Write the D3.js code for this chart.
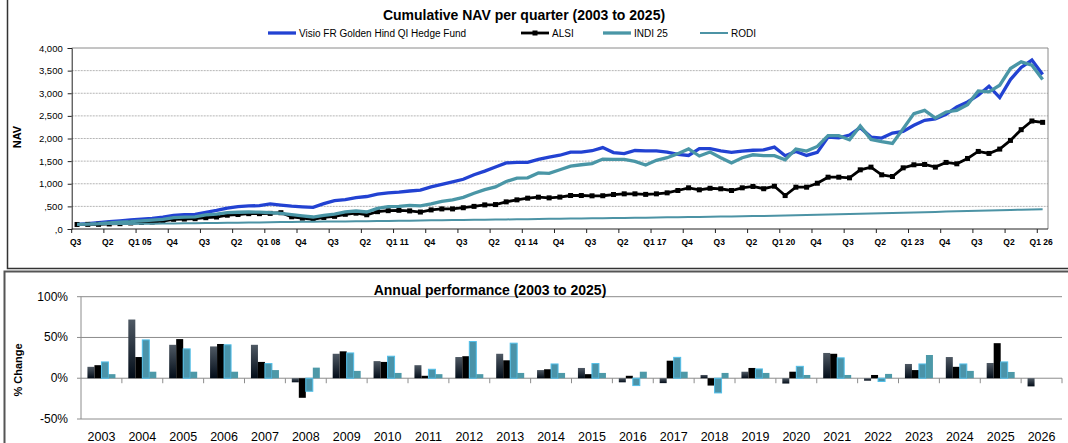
<!DOCTYPE html>
<html>
<head>
<meta charset="utf-8">
<script src="https://cdn.jsdelivr.net/npm/d3@7"></script>
<style>
    body { margin: 0; background: #fff; }
    svg text { font-family: "Liberation Sans", Arial, sans-serif; fill: #000; }
</style>
</head>
<body>
<div id="chart"></div>
<script>
// ---- quarterly NAV (Q3 2003 .. Q1 2026) ----
const fundNav = [100,118,140,160,180,200,220,235,262,300,
    318,325,370,410,460,495,510,515,555,530,
    505,490,478,560,625,650,695,718,770,800,
    815,840,860,930,985,1040,1100,1200,1280,1370,
    1460,1473,1473,1540,1590,1630,1700,1700,1730,1800,
    1690,1665,1735,1725,1725,1700,1650,1625,1775,1775,
    1725,1695,1720,1740,1750,1810,1620,1714,1626,1692,
    2032,2017,2077,2239,2032,2010,2121,2158,2291,2402,
    2431,2535,2697,2808,2956,3155,2904,3303,3569,3732,
    3414];
const alsiNav = [100,102,103,112,118,133,145,155,177,214,
    220,228,250,265,305,320,339,339,345,360,
    270,240,215,255,280,325,350,315,383,405,
    413,400,375,422,444,444,470,500,533,540,
    600,644,681,703,688,705,740,740,733,735,
    762,777,777,765,777,799,851,910,866,900,
    888,851,910,940,890,946,739,924,924,1012,
    1145,1145,1131,1308,1367,1197,1160,1352,1419,1426,
    1367,1471,1441,1559,1714,1670,1766,1958,2195,2387,
    2357];
const indiNav = [100,108,118,135,150,162,180,195,214,250,
    262,270,310,330,360,370,376,372,360,345,
    317,290,265,300,330,380,398,376,455,495,
    500,520,512,555,610,645,700,790,870,930,
    1050,1125,1132,1240,1230,1310,1390,1420,1445,1545,
    1540,1540,1495,1415,1517,1576,1665,1769,1613,1702,
    1576,1458,1576,1640,1620,1620,1530,1766,1722,1825,
    2062,2062,1973,2276,1980,1929,1892,2217,2550,2623,
    2453,2586,2623,2749,3052,3030,3178,3547,3695,3621,
    3303];
const rodiNav = [100,103,105,108,110,113,116,118,121,124,
    126,129,132,135,138,140,143,146,149,152,
    155,158,160,163,165,168,170,173,176,179,
    182,185,188,191,194,197,200,203,206,209,
    212,215,218,221,224,227,230,233,236,239,
    242,245,248,251,254,257,260,263,266,270,
    274,278,282,286,290,295,300,305,310,315,
    320,325,330,336,342,348,354,360,366,372,
    378,384,390,396,402,408,414,420,426,431,
    435];
// one label every third quarter, starting at Q3 2003
const quarterLabels = ["Q3","Q2","Q1 05","Q4","Q3","Q2","Q1 08","Q4","Q3","Q2","Q1 11",
    "Q4","Q3","Q2","Q1 14","Q4","Q3","Q2","Q1 17","Q4","Q3","Q2","Q1 20",
    "Q4","Q3","Q2","Q1 23","Q4","Q3","Q2","Q1 26"];
const navTicks = [0,500,1000,1500,2000,2500,3000,3500,4000];

// ---- annual performance (%) ----
const years = ["2003","2004","2005","2006","2007","2008","2009","2010","2011","2012","2013","2014",
    "2015","2016","2017","2018","2019","2020","2021","2022","2023","2024","2025","2026"];
const fundPerf = [14,72,41,39,41,-5,30,21,16,26,30,10,12.6,-5,-6,4,8,-6.5,31,-3,17.5,26,18.7,-10];
const alsiPerf = [16,26,48,42,20,-24,33,20,3,27,22,11,5,3,21.5,-9,12.6,8,30,4,10,14,43,null];
const indiPerf = [20,47,36,41,18,-16,31,27,11,45,43,17.5,18,-9,25.6,-18,11.4,14.6,25,-4,17.5,17.5,20,null];
const rodiPerf = [5,8,8,8,10,13,9,6.5,5,5,6.5,6.5,6.5,8,8,6.5,6.5,4,4,5.3,28.5,9,7.7,null];
const perfTicks = [-50,0,50,100];

document.addEventListener("DOMContentLoaded", () => {

    const width = 1068, height = 443;

    const svg = d3.select("#chart")
        .append("svg")
        .attr("width", width)
        .attr("height", height);

    const defs = svg.append("defs");
    const grad = defs.append("linearGradient")
        .attr("id", "fundGrad")
        .attr("x1", 0).attr("y1", 0).attr("x2", 0).attr("y2", 1);
    grad.append("stop").attr("offset", "0%").attr("stop-color", "#4f5964");
    grad.append("stop").attr("offset", "100%").attr("stop-color", "#020c18");

    // frames of the two chart boxes
    svg.append("path").attr("d", "M7.5,0V268.5H1068")
        .attr("fill", "none").attr("stroke", "#333").attr("stroke-width", 1.5);
    svg.append("path").attr("d", "M4.5,443V271.5H1068")
        .attr("fill", "none").attr("stroke", "#555").attr("stroke-width", 2);

    // ================= top: cumulative NAV =================
    const nav = { left: 71.7, right: 1048, top: 48, bottom: 229 };
    const colors = { fund: "#2242d2", alsi: "#000", indi: "#4a96a6", rodi: "#4c93a5" };

    const x = d3.scaleBand()
        .domain(d3.range(fundNav.length))
        .range([nav.left, nav.right]);
    const y = d3.scaleLinear()
        .domain([0, 4000])
        .range([nav.bottom, nav.top]);
    const cx = i => x(i) + x.bandwidth() / 2;

    const top = svg.append("g");

    top.append("g")
        .selectAll("line")
        .data(navTicks.filter(d => d > 0 && d < 4000))
        .enter().append("line")
        .attr("x1", nav.left).attr("x2", nav.right)
        .attr("y1", d => y(d)).attr("y2", d => y(d))
        .attr("stroke", "#b5b5b5")
        .attr("stroke-dasharray", "2,1");

    top.append("path")
        .attr("d", `M${nav.left},${nav.top}H${nav.right}V${nav.bottom}`)
        .attr("fill", "none").attr("stroke", "#8a8a8a");

    const yAxis = top.append("g")
        .attr("transform", `translate(${nav.left},0)`)
        .call(d3.axisLeft(y).tickValues(navTicks).tickSize(4).tickPadding(5)
            .tickFormat(d => d < 1000 ? "," + d : d3.format(",")(d)));
    yAxis.selectAll("text").style("font-size", "9.5px");
    yAxis.selectAll(".domain, .tick line").attr("stroke", "#222");

    const tickIdx = d3.range(0, fundNav.length, 3);
    const xAxis = top.append("g");
    xAxis.append("line")
        .attr("x1", nav.left).attr("x2", nav.right)
        .attr("y1", nav.bottom).attr("y2", nav.bottom)
        .attr("stroke", "#222");
    xAxis.selectAll(".qtick")
        .data(tickIdx)
        .enter().append("line")
        .attr("x1", d => x(d)).attr("x2", d => x(d))
        .attr("y1", nav.bottom).attr("y2", nav.bottom + 4)
        .attr("stroke", "#222");
    xAxis.selectAll(".qlabel")
        .data(tickIdx)
        .enter().append("text")
        .attr("x", d => cx(d) - 1.5)
        .attr("y", 245)
        .attr("text-anchor", "middle")
        .style("font-size", "8.5px")
        .style("font-weight", "bold")
        .text((d, i) => quarterLabels[i]);

    top.append("text")
        .attr("transform", "translate(21,137) rotate(-90)")
        .attr("text-anchor", "middle")
        .style("font-size", "11px")
        .style("font-weight", "bold")
        .text("NAV");

    const line = d3.line().x((d, i) => cx(i)).y(d => y(d));

    top.append("path").datum(fundNav).attr("d", line)
        .attr("fill", "none").attr("stroke", colors.fund).attr("stroke-width", 3.3);
    top.append("path").datum(alsiNav).attr("d", line)
        .attr("fill", "none").attr("stroke", colors.alsi).attr("stroke-width", 2.8);
    top.append("g").selectAll("rect")
        .data(alsiNav)
        .enter().append("rect")
        .attr("x", (d, i) => cx(i) - 2.5)
        .attr("y", d => y(d) - 2.5)
        .attr("width", 5).attr("height", 5)
        .attr("fill", "#000");
    top.append("path").datum(indiNav).attr("d", line)
        .attr("fill", "none").attr("stroke", colors.indi).attr("stroke-width", 3.3);
    top.append("path").datum(rodiNav).attr("d", line)
        .attr("fill", "none").attr("stroke", colors.rodi).attr("stroke-width", 2);

    top.append("text")
        .attr("x", 524).attr("y", 20)
        .attr("text-anchor", "middle")
        .style("font-size", "14px")
        .style("font-weight", "bold")
        .text("Cumulative NAV per quarter (2003 to 2025)");

    const legend = [
        { name: "Visio FR Golden Hind QI Hedge Fund", color: colors.fund, x: 268, w: 3.3 },
        { name: "ALSI", color: colors.alsi, x: 521, w: 2.8, marker: true },
        { name: "INDI 25", color: colors.indi, x: 603, w: 3.3 },
        { name: "RODI", color: colors.rodi, x: 700, w: 2 }
    ];
    const lg = top.append("g").selectAll("g")
        .data(legend)
        .enter().append("g")
        .attr("transform", d => `translate(${d.x},33)`);
    lg.append("line")
        .attr("x1", 0).attr("x2", 28)
        .attr("stroke", d => d.color)
        .attr("stroke-width", d => d.w);
    lg.filter(d => d.marker).append("rect")
        .attr("x", 11.5).attr("y", -2.5).attr("width", 5).attr("height", 5)
        .attr("fill", "#000");
    lg.append("text")
        .attr("x", 31).attr("y", 3.6)
        .style("font-size", "10px")
        .text(d => d.name);

    // ================= bottom: annual performance =================
    const perf = { left: 81, right: 1062, top: 296.7, bottom: 419 };
    const series = [
        { key: "fund", values: fundPerf, fill: "url(#fundGrad)", stroke: "none" },
        { key: "alsi", values: alsiPerf, fill: "#000", stroke: "none" },
        { key: "indi", values: indiPerf, fill: "#4a93a9", stroke: "#52bfe9" },
        { key: "rodi", values: rodiPerf, fill: "#4d99a8", stroke: "none" }
    ];

    const x0 = d3.scaleBand()
        .domain(years)
        .range([perf.left, perf.right]);
    const x1 = d3.scaleBand()
        .domain(series.map(s => s.key))
        .range([0, x0.bandwidth()])
        .paddingOuter(0.92);
    const yp = d3.scaleLinear()
        .domain([-50, 100])
        .range([perf.bottom, perf.top]);

    const bottom = svg.append("g");

    bottom.append("g").selectAll("line")
        .data(perfTicks)
        .enter().append("line")
        .attr("x1", perf.left - 4).attr("x2", perf.right)
        .attr("y1", d => yp(d)).attr("y2", d => yp(d))
        .attr("stroke", "#8c8c8c");
    bottom.append("line")
        .attr("x1", perf.left).attr("x2", perf.left)
        .attr("y1", perf.top).attr("y2", perf.bottom)
        .attr("stroke", "#8c8c8c");
    bottom.append("g").selectAll("line")
        .data(years.slice(1).concat(["end"]))
        .enter().append("line")
        .attr("x1", (d, i) => perf.left + (i + 1) * x0.step())
        .attr("x2", (d, i) => perf.left + (i + 1) * x0.step())
        .attr("y1", yp(0)).attr("y2", yp(0) + 5)
        .attr("stroke", "#8c8c8c");

    bottom.append("g").selectAll("text")
        .data(perfTicks)
        .enter().append("text")
        .attr("x", 68)
        .attr("y", d => yp(d) + 4)
        .attr("text-anchor", "end")
        .style("font-size", "12px")
        .text(d => d + "%");

    bottom.append("g").selectAll("text")
        .data(years)
        .enter().append("text")
        .attr("x", d => x0(d) + x0.bandwidth() / 2)
        .attr("y", 441)
        .attr("text-anchor", "middle")
        .style("font-size", "12.5px")
        .text(d => d);

    series.forEach(s => {
        bottom.append("g").selectAll("rect")
            .data(years.map((yr, i) => ({ year: yr, value: s.values[i] }))
                .filter(d => d.value !== null))
            .enter().append("rect")
            .attr("x", d => x0(d.year) + x1(s.key))
            .attr("y", d => yp(Math.max(0, d.value)))
            .attr("width", x1.bandwidth())
            .attr("height", d => Math.abs(yp(d.value) - yp(0)))
            .attr("fill", s.fill)
            .attr("stroke", s.stroke)
            .attr("stroke-width", 1);
    });

    bottom.append("text")
        .attr("x", 490).attr("y", 295)
        .attr("text-anchor", "middle")
        .style("font-size", "14px")
        .style("font-weight", "bold")
        .text("Annual performance (2003 to 2025)");

    bottom.append("text")
        .attr("transform", "translate(22,370) rotate(-90)")
        .attr("text-anchor", "middle")
        .style("font-size", "11px")
        .style("font-weight", "bold")
        .text("% Change");
});
</script>
</body>
</html>
